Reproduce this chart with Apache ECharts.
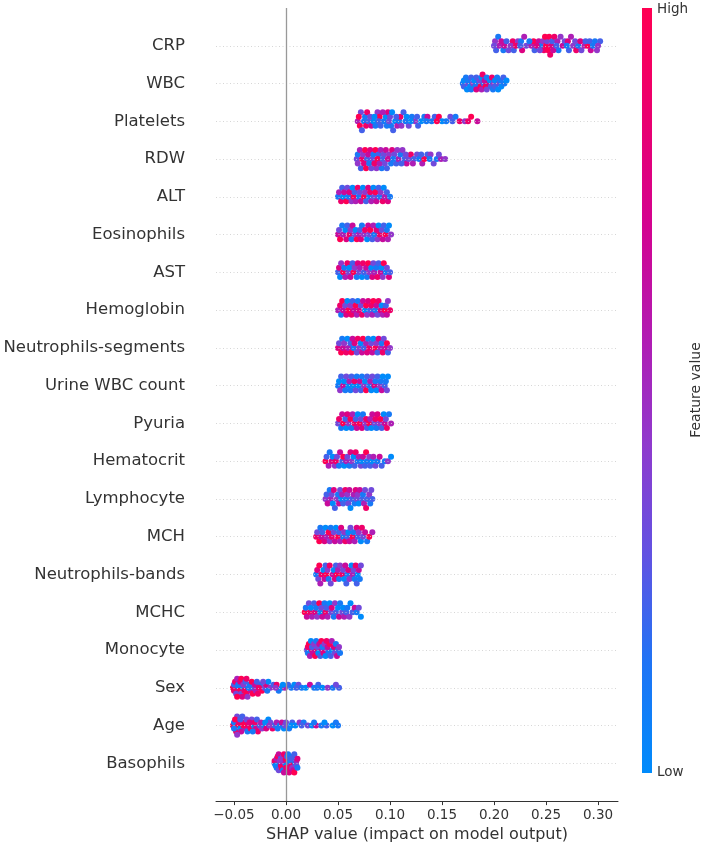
<!DOCTYPE html>
<html>
<head>
<meta charset="utf-8">
<script src="https://cdn.jsdelivr.net/npm/echarts@6/dist/echarts.min.js"></script>
<style>
  html, body { margin: 0; padding: 0; background: #fff; }
  #chart { width: 704px; height: 848px; }
</style>
</head>
<body>
<div id="chart"></div>
<script>
// features, top to bottom
var features = ['CRP', 'WBC', 'Platelets', 'RDW', 'ALT', 'Eosinophils', 'AST', 'Hemoglobin',
    'Neutrophils-segments', 'Urine WBC count', 'Pyuria', 'Hematocrit', 'Lymphocyte', 'MCH',
    'Neutrophils-bands', 'MCHC', 'Monocyte', 'Sex', 'Age', 'Basophils'];

// SHAP values per feature, in thousandths (203 = 0.203)
var shapValues = [
    [201,202,205,209,210,214,218,219,223,226,227,231,236,238,239,243,245,247,248,250,251,253,255,256,258,261,262,266,268,271,272,276,279,281,284,287,290,292,293,297,299,302,
     200,204,207,212,216,221,225,229,234,241,244,249,252,254,257,260,264,270,274,278,283,288,295,300],
    [170,171,171,173,174,175,175,177,178,178,180,181,182,183,183,185,186,187,188,188,189,190,191,192,193,193,195,196,197,198,199,200,201,201,203,204,205,206,207,209,210,212],
    [69,71,72,75,77,79,82,84,86,88,90,91,94,96,98,100,101,103,105,107,109,110,113,116,118,121,124,127,130,133,136,140,143,147,150,154,158,163,167,172,178,184,
     70,73,76,78,81,85,89,93,97,99,102,106,111,115,120,126,135,145,160,175],
    [68,69,71,73,74,76,78,79,81,83,84,86,87,89,91,92,94,96,97,99,101,102,104,106,108,110,112,114,116,118,120,123,126,128,131,133,136,139,142,145,149,153,
     69,72,75,77,80,82,85,88,90,93,95,98,103,107,111,115,122,130,138,147],
    [50,51,53,54,55,56,58,59,60,61,63,64,65,66,67,69,70,71,72,74,75,76,77,79,80,81,82,84,85,86,87,89,90,91,93,94,95,97,98,100],
    [50,51,52,54,55,57,58,59,61,62,63,64,66,67,68,70,71,72,73,75,76,78,79,80,81,83,84,85,87,88,89,90,92,93,94,96,97,98,99,101],
    [50,51,52,53,55,56,57,59,60,61,62,64,65,66,68,69,70,71,73,74,75,77,78,79,80,82,83,84,85,87,88,89,91,92,93,94,96,97,99,100],
    [50,52,53,54,55,57,58,59,60,62,63,64,65,67,68,69,70,72,73,74,76,77,78,79,81,82,83,84,86,87,88,89,91,92,93,95,96,97,98,100],
    [50,51,53,54,55,56,58,59,60,62,63,64,65,66,68,69,70,72,73,74,75,77,78,79,80,82,83,84,86,87,88,89,91,92,93,94,96,97,98,100],
    [50,51,52,53,55,56,57,58,60,61,62,63,65,66,67,68,70,71,72,73,75,76,77,78,80,81,82,83,85,86,87,88,90,91,92,93,95,96,97,98],
    [50,51,53,54,55,57,58,59,60,62,63,64,66,67,68,69,71,72,73,74,76,77,78,80,81,82,83,85,86,87,88,90,91,92,94,95,96,97,99,101],
    [38,39,41,42,44,45,47,48,49,51,52,54,55,56,58,59,61,62,63,65,66,67,69,70,72,73,74,76,77,78,80,81,83,84,86,88,90,92,95,98,101],
    [38,39,40,42,43,44,45,46,47,49,50,51,52,53,54,55,57,58,59,60,61,62,63,65,66,67,68,69,70,71,73,74,75,76,77,78,80,81,82,83],
    [29,30,32,33,34,35,37,38,39,41,42,43,44,46,47,48,50,51,52,53,55,56,57,59,60,61,62,64,65,66,68,69,70,72,73,74,76,78,80,83],
    [29,30,31,32,33,34,36,37,38,39,40,41,42,43,45,46,47,48,49,50,51,52,54,55,56,57,58,59,60,61,63,64,65,66,67,68,69,70,71,72],
    [18,19,20,22,23,24,25,27,28,29,30,32,33,34,35,37,38,39,40,42,43,44,46,47,48,50,51,52,54,55,56,58,59,61,62,64,66,68,70,72],
    [20,21,21,22,23,24,25,25,26,27,28,29,30,30,31,32,33,34,35,35,36,37,38,39,40,40,41,42,43,44,45,46,47,48,49,50,51,52],
    [-51,-50,-49,-47,-46,-45,-43,-42,-41,-40,-38,-37,-35,-34,-32,-31,-29,-27,-25,-23,-21,-19,-17,-15,-12,-9,-7,-4,-1,2,5,8,12,15,19,23,27,31,35,40,45,51,
     -50,-48,-47,-46,-44,-43,-41,-39,-38,-36,-33,-30,-28,-26,-22,-18,-10,-3,10,30,48],
    [-51,-50,-48,-47,-46,-44,-43,-42,-40,-39,-37,-36,-34,-33,-31,-29,-27,-25,-23,-21,-19,-17,-15,-13,-11,-9,-6,-4,-2,0,3,6,9,13,17,21,25,29,34,39,45,50,
     -50,-49,-47,-45,-44,-41,-38,-35,-32,-30,-28,-24,-20,-16,-8,-1,5,15,27,37,48],
    [-11,-11,-10,-9,-9,-8,-7,-7,-6,-5,-5,-4,-3,-3,-2,-1,-1,0,0,1,2,2,3,4,4,5,6,6,7,8,8,9,10,10,11,11,-6,0,5,-2]
];

// feature value level of each point, 0 = low ... 9 = high
var featureValues = [
    [4,2,5,1,6,3,8,2,4,1,7,3,5,9,2,6,1,4,8,9,3,9,7,2,8,5,1,6,3,7,2,4,8,1,3,5,9,2,6,1,4,2,
     3,1,6,2,4,8,2,5,1,7,3,9,9,8,6,2,4,1,5,3,7,2,1,4],
    [1,0,2,1,0,3,1,0,2,1,4,0,1,2,7,1,3,9,0,5,8,2,6,9,1,3,7,0,2,8,1,4,0,2,1,0,3,1,0,2,1,0],
    [5,9,3,1,8,2,6,0,1,4,9,2,1,0,7,3,1,2,0,5,1,8,2,0,3,1,4,2,0,1,6,1,2,9,0,1,3,1,8,4,9,6,
     9,2,1,8,3,0,2,5,1,3,0,2,4,1,0,2,1,9,2,8],
    [3,1,5,8,4,9,2,6,7,3,1,9,4,2,5,1,3,6,2,4,1,7,3,2,5,1,4,2,6,3,8,2,3,1,5,9,2,4,3,1,5,4,
     4,2,7,9,1,3,8,9,5,2,3,6,1,4,2,3,5,2,1,3],
    [1,5,8,2,0,6,9,3,1,7,4,0,9,2,5,8,1,3,6,0,9,4,2,7,1,8,5,0,3,9,6,2,1,4,8,0,5,2,7,1],
    [6,3,9,1,5,0,7,2,8,4,1,6,3,0,9,5,2,7,1,4,8,0,6,3,9,2,5,1,7,4,0,8,3,6,2,9,1,5,0,4],
    [2,7,0,4,9,1,5,8,3,0,6,2,9,4,1,7,3,5,0,8,2,6,1,9,4,0,7,3,5,1,8,2,6,0,4,9,1,3,7,2],
    [5,8,1,9,6,3,7,0,9,4,8,2,6,9,5,1,7,3,8,6,0,9,4,7,2,8,5,9,1,6,3,8,7,0,5,9,2,6,4,8],
    [7,3,9,1,6,4,8,0,5,2,9,6,1,7,3,8,4,0,6,9,2,5,7,1,8,3,6,0,9,4,2,7,5,1,8,3,6,9,2,4],
    [1,0,4,2,6,0,1,3,0,5,1,2,0,8,3,1,0,6,2,1,4,0,9,2,1,5,0,3,7,1,0,2,4,1,6,0,2,1,3,0],
    [3,8,1,6,9,2,0,7,4,9,1,5,8,2,6,0,9,3,7,1,4,8,2,9,5,0,6,3,8,1,7,4,9,2,0,6,3,8,1,5],
    [9,2,5,1,7,0,4,8,3,1,6,2,9,0,5,3,1,7,4,0,2,8,1,5,3,0,6,2,9,1,4,2,0,5,3,1,6,2,1,4,0],
    [4,2,6,1,5,3,0,7,2,4,1,6,3,0,5,2,8,1,4,3,6,0,2,5,1,7,3,4,0,6,2,1,5,3,8,2,4,1,3,2],
    [8,3,9,1,6,2,7,0,5,9,4,1,8,3,6,0,9,2,5,7,1,4,8,2,0,6,3,9,1,5,7,2,4,0,8,3,6,1,9,5],
    [1,7,3,9,5,8,0,6,2,9,4,1,8,3,6,0,7,2,9,5,1,4,8,3,0,6,2,1,7,4,0,5,3,1,8,2,0,6,1,3],
    [9,1,6,3,8,0,5,2,7,1,4,9,0,3,6,1,8,2,5,0,3,7,1,4,2,0,6,1,3,0,5,2,1,4,0,2,6,1,3,0],
    [3,8,1,9,5,0,7,2,6,4,9,1,8,3,0,6,2,9,5,1,7,4,0,8,3,6,1,9,2,5,0,7,3,1,6,2,4,1],
    [9,2,8,5,1,9,3,7,0,8,9,4,1,6,9,2,5,8,1,9,3,7,0,4,2,8,1,0,5,2,1,0,3,1,0,6,1,2,0,4,1,2,
     8,3,9,1,7,9,4,2,8,1,9,6,2,8,3,1,4,0,2,1,3],
    [9,1,8,3,9,0,6,2,8,5,1,7,9,3,0,6,8,2,4,1,7,0,3,8,2,5,1,6,0,3,1,2,0,4,1,3,0,6,1,2,0,1,
     1,9,4,8,2,9,3,7,1,8,2,5,0,4,1,3,0,2,1,0,1],
    [2,8,0,5,1,9,3,6,0,7,2,9,4,1,8,3,6,0,9,2,5,1,7,3,0,8,4,1,6,2,9,0,5,3,7,1,4,8,2,6]
];

var xTicks = [-0.05, 0, 0.05, 0.1, 0.15, 0.2, 0.25, 0.3];

// blue (low) -> purple -> red (high)
var colorStops = ['#008bfb', '#1f74f5', '#6252e2', '#8f3acd', '#b21bb2', '#d30390', '#ea006f', '#ff0052'];

var BIN_WIDTH = 5;    // thousandths, about one dot wide

function beeswarm(vals) {       // vertical offsets, stacked per bin like shap does
    var order = vals.map(function (v, i) { return i; });
    order.sort(function (a, b) { return vals[a] - vals[b]; });
    var lo = vals[order[0]];
    var ys = [], layer = 0, lastBin = null;
    order.forEach(function (i) {
        var bin = Math.floor((vals[i] - lo) / BIN_WIDTH);
        if (bin !== lastBin) layer = 0;
        ys[i] = Math.ceil(layer / 2) * ((layer % 2) * 2 - 1);
        layer++;
        lastBin = bin;
    });
    var maxLayer = Math.max.apply(null, ys.map(Math.abs)) || 1;
    var step = Math.min(0.12, 0.24 / maxLayer);
    return ys.map(function (y) { return y * step; });
}

var nRows = features.length;
var points = [];
var rowLines = [];
for (var r = 0; r < nRows; r++) {
    var pos = nRows - 1 - r;
    var offs = beeswarm(shapValues[r]);
    for (var k = 0; k < shapValues[r].length; k++) {
        points.push([shapValues[r][k] / 1000, pos + offs[k], featureValues[r][k]]);
    }
    rowLines.push({ yAxis: pos });
}
var rowTicks = rowLines.map(function (d) { return d.yAxis; });

function fmtTick(v) {
    return v.toFixed(2).replace('-', '\u2212');
}

var chart = echarts.init(document.getElementById('chart'), null, { renderer: 'canvas' });

var gradStops = colorStops.slice().reverse().map(function (c, i, arr) {
    return { offset: i / (arr.length - 1), color: c };
});

var option = {
    animation: false,
    backgroundColor: '#fff',
    textStyle: { fontFamily: 'DejaVu Sans' },
    grid: { left: 216, right: 86, top: 8, bottom: 46 },
    xAxis: {
        type: 'value',
        min: -0.0673,
        max: 0.3192,
        axisLine: { show: true, onZero: false, lineStyle: { color: '#333', width: 1 } },
        axisTick: { show: true, customValues: xTicks, length: 4, lineStyle: { color: '#333' } },
        axisLabel: { customValues: xTicks, formatter: fmtTick, fontSize: 13.5, color: '#333', margin: 7 },
        splitLine: { show: false },
        name: 'SHAP value (impact on model output)',
        nameLocation: 'middle',
        nameGap: 24,
        nameTextStyle: { fontSize: 16, color: '#333', verticalAlign: 'top' }
    },
    yAxis: {
        type: 'value',
        min: -1,
        max: nRows,
        axisLine: { show: false },
        axisTick: { show: false },
        splitLine: { show: false },
        axisLabel: {
            customValues: rowTicks,
            formatter: function (v) { return features[nRows - 1 - v]; },
            fontSize: 16.5,
            color: '#333',
            margin: 31
        }
    },
    visualMap: {
        show: false,
        type: 'continuous',
        dimension: 2,
        min: 0,
        max: 9,
        seriesIndex: 1,
        inRange: { color: colorStops }
    },
    series: [
        {   // guide lines under the dots
            type: 'scatter',
            data: [],
            silent: true,
            z: 1,
            markLine: {
                silent: true,
                symbol: 'none',
                label: { show: false },
                animation: false,
                data: rowLines.map(function (d) {
                    return { yAxis: d.yAxis, lineStyle: { color: '#ccc', width: 0.8, type: [1, 2.5] } };
                }).concat([{ xAxis: 0, lineStyle: { color: '#999', width: 1.3, type: 'solid' } }])
            }
        },
        {
            type: 'scatter',
            data: points,
            symbolSize: 6,
            z: 2,
            itemStyle: { opacity: 1, borderWidth: 0 }
        }
    ],
    graphic: [
        {
            type: 'rect',
            shape: { x: 642, y: 8, width: 10, height: 765 },
            style: { fill: new echarts.graphic.LinearGradient(0, 0, 0, 1, gradStops) }
        },
        {
            type: 'text', x: 657, y: 9,
            style: { text: 'High', fontSize: 13.5, fill: '#333', fontFamily: 'DejaVu Sans', verticalAlign: 'middle' }
        },
        {
            type: 'text', x: 657, y: 772,
            style: { text: 'Low', fontSize: 13.5, fill: '#333', fontFamily: 'DejaVu Sans', verticalAlign: 'middle' }
        },
        {
            type: 'text', x: 696, y: 390, rotation: Math.PI / 2,
            style: { text: 'Feature value', fontSize: 14, fill: '#333', fontFamily: 'DejaVu Sans', align: 'center', verticalAlign: 'middle' }
        }
    ]
};
chart.setOption(option);
</script>
</body>
</html>
